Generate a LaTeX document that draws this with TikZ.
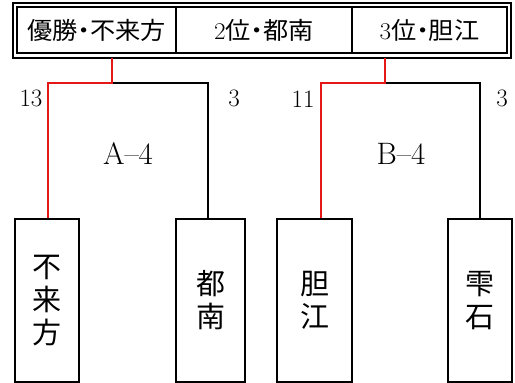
\documentclass[tikz,border=0pt]{standalone}
\usepackage{fontspec}
\newfontfamily\cjk{Noto Sans CJK JP}
\definecolor{winred}{RGB}{228,24,22}
\newcommand\widetext[1]{\scalebox{1.05}[1]{#1}}
\newcommand\middot{\kern-.25em・\kern-.25em}

\begin{document}
\begin{tikzpicture}[x=1pt,y=-1pt,
  cell/.style={draw, line width=1.6pt, minimum height=46pt, inner sep=0pt,
    font=\cjk\fontsize{24}{24}\selectfont},
  team/.style={draw, line width=1.6pt, minimum height=163pt, inner sep=0pt,
    align=center, font=\cjk\fontsize{29}{33}\selectfont},
  score/.style={inner sep=1pt, font=\fontsize{25}{25}\selectfont},
  block/.style={inner sep=1pt, font=\fontsize{31}{31}\selectfont},
  win/.style={line width=2pt, winred},
  lose/.style={line width=1.6pt, black}
]
    \useasboundingbox (0,0) rectangle (515,383);
    % results
    \draw[line width=1.6pt] (13,3) rectangle (511,58);
    \node[cell, minimum width=159pt] (first) at (96.5,30) {\widetext{優勝\middot 不来方}};
    \node[cell, minimum width=176pt] (second) at (264,30) {\widetext{{\rmfamily 2}位\middot 都南}};
    \node[cell, minimum width=155pt] (third) at (429.5,30) {\widetext{{\rmfamily 3}位\middot 胆江}};
    % teams
    \node[team, minimum width=64pt] (fukaikata) at (47,300.5) {不\\来\\方};
    \node[team, minimum width=69pt] (tonan) at (210.5,300.5) {都\\南};
    \node[team, minimum width=75pt] (tanko) at (314.5,300.5) {胆\\江};
    \node[team, minimum width=64pt] (shizukuishi) at (480,300.5) {雫\\石};
    % bracket A
    \coordinate (topA) at (112,58);
    \coordinate (midA) at (112,83);
    \draw[lose] (midA) -| ([xshift=-2.5pt]tonan.north);
    \draw[win] (topA) -- (midA) -| ([xshift=1pt]fukaikata.north);
    \node[score] (scoreAl) at (31,98) {13};
    \node[score] (scoreAr) at (234,98) {3};
    \node[block] (blockA) at (128,154) {A--4};
    % bracket B
    \coordinate (topB) at (385,58);
    \coordinate (midB) at (385,83);
    \draw[lose] (midB) -| (shizukuishi.north);
    \draw[win] (topB) -- (midB) -| ([xshift=6pt]tanko.north);
    \node[score] (scoreBl) at (303,99) {11};
    \node[score] (scoreBr) at (502,98) {3};
    \node[block] (blockB) at (401,154) {B--4};
\end{tikzpicture}
\end{document}
